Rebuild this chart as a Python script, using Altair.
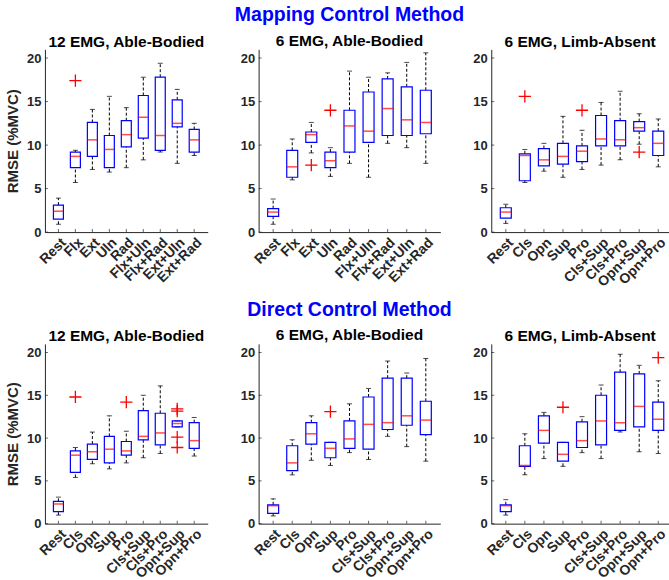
import json
import altair as alt
import pandas as pd

# ---------------- data ----------------
wrist = ["Rest", "Flx", "Ext", "Uln", "Rad", "Flx+Uln", "Flx+Rad", "Ext+Uln", "Ext+Rad"]
hand = ["Rest", "Cls", "Opn", "Sup", "Pro", "Cls+Sup", "Cls+Pro", "Opn+Sup", "Opn+Pro"]
y_ticks = [0, 5, 10, 15, 20]

# Mapping control, 12 EMG, able-bodied
m12ab_lo = [0.9, 5.7, 7.2, 6.9, 7.4, 8.3, 9.2, 7.9, 8.8]
m12ab_q1 = [1.5, 7.4, 8.7, 7.4, 9.8, 10.8, 9.4, 12.1, 9.2]
m12ab_med = [2.4, 8.7, 10.6, 9.5, 11.2, 13.2, 11.1, 12.5, 10.6]
m12ab_q3 = [3.1, 9.2, 12.6, 11.1, 12.8, 15.7, 17.8, 15.2, 11.8]
m12ab_hi = [3.9, 9.4, 14.1, 15.6, 14.3, 17.8, 19.4, 16.4, 12.5]
m12ab_out_cat = ["Flx"]
m12ab_out_val = [17.4]

# Mapping control, 6 EMG, able-bodied
m6ab_lo = [0.9, 6.0, 9.1, 6.4, 7.9, 6.3, 10.2, 9.7, 7.9]
m6ab_q1 = [1.8, 6.3, 10.3, 7.4, 9.2, 10.3, 11.1, 11.1, 11.3]
m6ab_med = [2.3, 7.5, 11.2, 8.2, 12.2, 11.6, 14.2, 12.9, 12.6]
m6ab_q3 = [2.7, 9.4, 11.5, 9.2, 14.0, 16.1, 17.6, 16.7, 16.3]
m6ab_hi = [3.8, 10.7, 12.6, 9.7, 18.5, 17.8, 18.3, 19.5, 20.6]
m6ab_out_cat = ["Ext", "Uln"]
m6ab_out_val = [7.7, 14.0]

# Mapping control, 6 EMG, limb-absent
m6la_lo = [1.0, 5.7, 7.0, 6.3, 7.2, 7.7, 8.3, 10.1, 7.5]
m6la_q1 = [1.6, 5.9, 7.6, 7.8, 8.1, 9.9, 9.9, 11.6, 8.8]
m6la_med = [2.3, 8.8, 8.3, 8.7, 9.3, 10.7, 10.6, 12.0, 10.2]
m6la_q3 = [2.8, 9.0, 9.6, 10.2, 9.9, 13.4, 12.8, 12.7, 11.6]
m6la_hi = [3.2, 9.5, 10.2, 13.3, 11.7, 14.9, 16.2, 13.6, 13.0]
m6la_out_cat = ["Cls", "Pro", "Opn+Sup"]
m6la_out_val = [15.6, 14.0, 9.2]

# Direct control, 12 EMG, able-bodied
d12ab_lo = [1.0, 5.4, 7.0, 6.4, 7.1, 7.7, 8.2, 11.3, 7.9]
d12ab_q1 = [1.4, 6.0, 7.5, 7.1, 8.0, 9.8, 9.2, 11.3, 8.8]
d12ab_med = [2.3, 8.0, 8.4, 8.7, 8.5, 10.2, 10.6, 11.7, 9.7]
d12ab_q3 = [2.6, 8.5, 9.3, 10.2, 9.6, 13.2, 12.9, 12.0, 11.8]
d12ab_hi = [3.1, 8.9, 10.7, 12.6, 10.8, 15.0, 16.1, 12.0, 12.4]
d12ab_out_cat = ["Cls", "Pro", "Opn+Sup", "Opn+Sup", "Opn+Sup", "Opn+Sup"]
d12ab_out_val = [14.8, 14.2, 13.4, 13.15, 10.1, 8.9]

# Direct control, 6 EMG, able-bodied
d6ab_lo = [0.9, 5.7, 7.4, 6.8, 8.3, 7.5, 10.2, 9.0, 7.3]
d6ab_q1 = [1.2, 6.2, 9.3, 7.7, 8.8, 8.7, 11.0, 11.5, 10.4]
d6ab_med = [2.1, 7.1, 10.5, 8.8, 9.9, 11.6, 11.8, 12.6, 12.1]
d6ab_q3 = [2.2, 9.1, 11.8, 9.5, 12.0, 14.8, 17.0, 17.0, 14.3]
d6ab_hi = [2.9, 9.8, 12.6, 9.5, 14.0, 15.8, 19.0, 17.6, 19.3]
d6ab_out_cat = ["Sup"]
d6ab_out_val = [13.1]

# Direct control, 6 EMG, limb-absent
d6la_lo = [1.0, 5.7, 7.6, 6.7, 8.3, 7.6, 10.7, 8.4, 8.2]
d6la_q1 = [1.4, 6.7, 9.4, 7.3, 8.9, 9.2, 10.9, 11.3, 10.9]
d6la_med = [2.1, 6.8, 10.9, 8.1, 9.7, 12.0, 11.8, 13.7, 12.2]
d6la_q3 = [2.2, 9.1, 12.6, 9.5, 11.9, 15.0, 17.7, 17.5, 14.2]
d6la_hi = [2.8, 10.5, 13.0, 9.5, 12.5, 16.2, 19.8, 18.5, 16.7]
d6la_out_cat = ["Sup", "Opn+Pro"]
d6la_out_val = [13.6, 19.4]

FONT = "Liberation Sans"
BLUE = "#0000ff"
RED = "#ff0000"
INK = "#262626"


def panel(cats, lo, q1, med, q3, hi, out_cat, out_val, title, width, height,
          xmax, box, ylabel):
    df = pd.DataFrame({"pos": list(range(1, len(cats) + 1)), "cat": cats,
                       "lo": lo, "q1": q1, "med": med, "q3": q3, "hi": hi})
    odf = pd.DataFrame({"pos": [cats.index(c) + 1 for c in out_cat], "val": out_val})
    tdf = pd.DataFrame({"yt": y_ticks})

    xscale = alt.Scale(domain=[0.5, xmax], nice=False, zero=False)
    xaxis = alt.Axis(values=list(range(1, len(cats) + 1)),
                     labelExpr=json.dumps(cats) + "[datum.value - 1]",
                     labelAngle=-45, title=None, grid=False, ticks=False,
                     labelFontSize=14, labelPadding=3, labelOverlap=False)
    yscale = alt.Scale(domain=[0, 21], nice=False, zero=True)
    if ylabel:
        yaxis = alt.Axis(values=y_ticks, grid=False, ticks=False,
                         labelFontSize=13, labelPadding=4,
                         title=ylabel, titlePadding=6, titleFontSize=15)
    else:
        yaxis = alt.Axis(values=y_ticks, grid=False, ticks=False,
                         labelFontSize=13, labelPadding=4, title=None)

    X = alt.X("pos:Q", scale=xscale, axis=xaxis)
    base = alt.Chart(df)
    w_up = base.mark_rule(color="black", strokeDash=[3, 2], strokeWidth=1).encode(
        x=X, y=alt.Y("q3:Q", scale=yscale, axis=yaxis), y2="hi:Q")
    w_dn = base.mark_rule(color="black", strokeDash=[3, 2], strokeWidth=1).encode(
        x=X, y=alt.Y("lo:Q", scale=yscale), y2="q1:Q")
    cap_hi = base.mark_tick(orient="horizontal", color="black", size=5, thickness=1).encode(
        x=X, y=alt.Y("hi:Q", scale=yscale))
    cap_lo = base.mark_tick(orient="horizontal", color="black", size=5, thickness=1).encode(
        x=X, y=alt.Y("lo:Q", scale=yscale))
    bx = base.mark_bar(orient="vertical", size=box, fillOpacity=0, stroke=BLUE,
                       strokeWidth=1.2).encode(
        x=X, y=alt.Y("q1:Q", scale=yscale), y2="q3:Q")
    md = base.mark_tick(orient="horizontal", color=RED, size=box, thickness=1.5).encode(
        x=X, y=alt.Y("med:Q", scale=yscale))
    outl = alt.Chart(odf).mark_point(shape="M-1,0L1,0M0,-1L0,1", filled=False,
                                     color=RED, size=150, strokeWidth=1.3,
                                     opacity=1).encode(
        x=X, y=alt.Y("val:Q", scale=yscale))
    # inward tick marks (MATLAB style)
    ytk = alt.Chart(tdf).mark_tick(orient="horizontal", color=INK, size=3,
                                   thickness=1).encode(
        x=alt.value(1.5), y=alt.Y("yt:Q", scale=yscale))
    xtk = base.mark_tick(orient="vertical", color=INK, size=3, thickness=1).encode(
        x=X, y=alt.value(height - 1.5))
    return alt.layer(w_up, w_dn, cap_hi, cap_lo, bx, md, outl, ytk, xtk).properties(
        width=width, height=height, title=title)


def ptitle(text):
    return alt.TitleParams(text=text, fontSize=15.5, font=FONT, fontWeight="bold",
                           color="black", anchor="middle", offset=-1)


def stitle(section, text):
    return alt.TitleParams(text=section, subtitle=text, fontSize=19.5, font=FONT,
                           fontWeight="bold", color=BLUE, anchor="middle", offset=-1,
                           subtitleFontSize=15.5, subtitleFont=FONT,
                           subtitleFontWeight="bold", subtitleColor="black",
                           subtitlePadding=8)


H1, H2 = 183, 180
W1, W2, W3 = 163, 182, 178
X3 = 0.5 + W3 / (W2 / 9.0)

p1 = panel(wrist, m12ab_lo, m12ab_q1, m12ab_med, m12ab_q3, m12ab_hi, m12ab_out_cat,
           m12ab_out_val, ptitle("12 EMG, Able-Bodied"), W1, H1, 9.5, 10, "RMSE (%MVC)")
p2 = panel(wrist, m6ab_lo, m6ab_q1, m6ab_med, m6ab_q3, m6ab_hi, m6ab_out_cat,
           m6ab_out_val, stitle("Mapping Control Method", "6 EMG, Able-Bodied"),
           W2, H1, 9.5, 11, None)
p3 = panel(hand, m6la_lo, m6la_q1, m6la_med, m6la_q3, m6la_hi, m6la_out_cat,
           m6la_out_val, ptitle("6 EMG, Limb-Absent"), W3, H1, X3, 11, None)
p4 = panel(hand, d12ab_lo, d12ab_q1, d12ab_med, d12ab_q3, d12ab_hi, d12ab_out_cat,
           d12ab_out_val, ptitle("12 EMG, Able-Bodied"), W1, H2, 9.5, 10, "RMSE (%MVC)")
p5 = panel(hand, d6ab_lo, d6ab_q1, d6ab_med, d6ab_q3, d6ab_hi, d6ab_out_cat,
           d6ab_out_val, stitle("Direct Control Method", "6 EMG, Able-Bodied"),
           W2, H2, 9.5, 11, None)
p6 = panel(hand, d6la_lo, d6la_q1, d6la_med, d6la_q3, d6la_hi, d6la_out_cat,
           d6la_out_val, ptitle("6 EMG, Limb-Absent"), W3, H2, X3, 11, None)

chart = alt.concat(p1, p2, p3, p4, p5, p6, columns=3, align="each", bounds="flush",
                   spacing={"row": 112, "column": 51}).properties(
    padding={"left": 5, "top": 5, "right": 0, "bottom": 0},
    background="white",
).configure_view(strokeWidth=0).configure_axis(
    labelFont=FONT, titleFont=FONT, labelFontWeight="bold", titleFontWeight="bold",
    labelColor=INK, titleColor=INK, domainColor=INK, domainWidth=1,
)

chart.save("out.html", embed_options={"renderer": "svg", "actions": False})
